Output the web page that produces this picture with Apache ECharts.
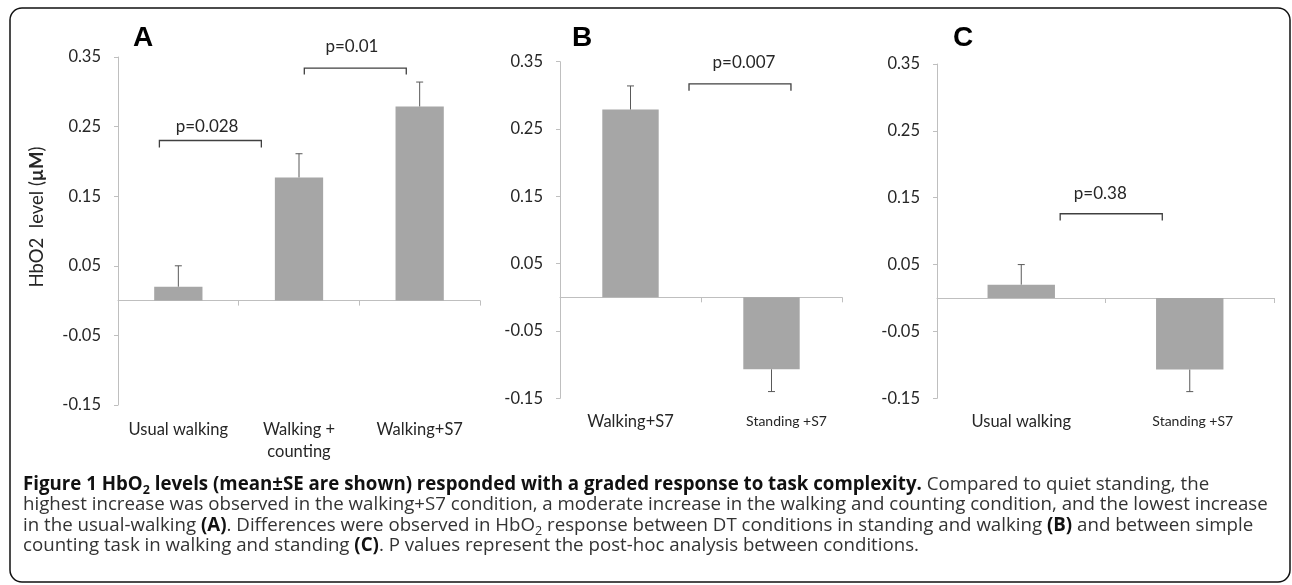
<!DOCTYPE html>
<html>
<head>
<meta charset="utf-8">
<script src="https://cdn.jsdelivr.net/npm/echarts@6/dist/echarts.min.js"></script>
<style>
html,body{margin:0;padding:0;background:#fff;}
#c{width:1292px;height:585px;}
</style>
</head>
<body>
<div id="c"></div>
<script>
// ---- data ----
const yTicks = [-0.15, -0.05, 0.05, 0.15, 0.25, 0.35];

const catsA = ['Usual walking', 'Walking +\ncounting', 'Walking+S7'];
const meanA = [0.02, 0.177, 0.279];
const seA = [0.03, 0.034, 0.035];

const catsB = ['Walking+S7', 'Standing +S7'];
const meanB = [0.279, -0.107];
const seB = [0.035, 0.033];

const catsC = ['Usual walking', 'Standing +S7'];
const meanC = [0.02, -0.107];
const seC = [0.03, 0.033];

// brackets: [fromCat, toCat, yTop, yEnd, labelCat, labelY]
const bracketsA = [[-0.157, 0.688, 0.230, 0.220, 0.238, 0.250], [1.044, 1.889, 0.334, 0.325, 1.439, 0.365]];
const bracketLabelsA = ['p=0.028', 'p=0.01'];
const bracketsB = [[0.415, 1.138, 0.317, 0.307, 0.805, 0.349]];
const bracketLabelsB = ['p=0.007'];
const bracketsC = [[0.231, 0.837, 0.126, 0.116, 0.469, 0.157]];
const bracketLabelsC = ['p=0.38'];

const panelLetters = ['A', 'B', 'C'];

// ---- styles ----
const AX = '#bfbfbf';
const TXT = '#262626';
const FONT = 'Lato';

const chart = echarts.init(document.getElementById('c'));

const grids = [
  {left: 118, top: 57, width: 362, height: 348},
  {left: 560, top: 61.7, width: 282, height: 336.6},
  {left: 937, top: 64, width: 337, height: 334.3}
];

function mkCats(cats, smallIdx, padLeft) {
  return cats.map((c, i) => {
    if (i === smallIdx) {
      return {value: c, textStyle: {fontSize: 14, padding: [0, 0, 0, padLeft]}};
    }
    return c;
  });
}

const panels = [
  {cats: catsA, labelCats: catsA, mean: meanA, se: seA, br: bracketsA, brl: bracketLabelsA, margin: 14},
  {cats: catsB, labelCats: mkCats(catsB, 1, 30), mean: meanB, se: seB, br: bracketsB, brl: bracketLabelsB, margin: 12},
  {cats: catsC, labelCats: mkCats(catsC, 1, 6), mean: meanC, se: seC, br: bracketsC, brl: bracketLabelsC, margin: 12}
];

const xAxes = [], yAxes = [], series = [];
panels.forEach((p, i) => {
  xAxes.push({
    gridIndex: i, type: 'category', data: p.cats,
    axisLine: {onZero: true, lineStyle: {color: AX, width: 1}},
    axisTick: {show: true, length: 5, lineStyle: {color: AX}},
    axisLabel: {show: false}
  });
  xAxes.push({
    gridIndex: i, type: 'category', data: p.labelCats, position: 'bottom',
    axisLine: {show: false, onZero: false},
    axisTick: {show: false},
    axisLabel: {margin: p.margin, fontFamily: FONT, fontSize: 16.5, color: TXT, lineHeight: 22, interval: 0}
  });
  yAxes.push({
    gridIndex: i, type: 'value', min: -0.15, max: 0.35,
    splitLine: {show: false},
    axisLine: {show: true, lineStyle: {color: AX}},
    axisTick: {show: true, length: 4, lineStyle: {color: AX}, customValues: yTicks},
    axisLabel: {customValues: yTicks, formatter: v => v.toFixed(2), fontFamily: FONT, fontSize: 16.5, color: TXT, margin: 17}
  });
  series.push({
    type: 'bar', xAxisIndex: 2 * i, yAxisIndex: i, data: p.mean,
    barWidth: '40%', itemStyle: {color: '#a6a6a6'}, silent: true
  });
  series.push({
    type: 'custom', xAxisIndex: 2 * i, yAxisIndex: i, z: 5, silent: true,
    data: p.mean.map((m, j) => [j, m, p.se[j]]),
    renderItem: (params, api) => {
      const x = api.value(0), m = api.value(1), s = api.value(2);
      const d = m >= 0 ? 1 : -1;
      const p0 = api.coord([x, m]);
      const p1 = api.coord([x, m + d * s]);
      const st = {stroke: '#595959', lineWidth: 1};
      return {type: 'group', children: [
        {type: 'line', shape: {x1: p0[0], y1: p0[1], x2: p1[0], y2: p1[1]}, style: st},
        {type: 'line', shape: {x1: p1[0] - 3.5, y1: p1[1], x2: p1[0] + 3.5, y2: p1[1]}, style: st}
      ]};
    }
  });
  series.push({
    type: 'custom', xAxisIndex: 2 * i, yAxisIndex: i, z: 5, silent: true,
    data: p.br,
    renderItem: (params, api) => {
      const band = api.size([1, 0])[0];
      const c0 = api.coord([0, api.value(2)]);
      const yTop = c0[1];
      const yEnd = api.coord([0, api.value(3)])[1];
      const x1 = c0[0] + api.value(0) * band;
      const x2 = c0[0] + api.value(1) * band;
      const lx = c0[0] + api.value(4) * band;
      const ly = api.coord([0, api.value(5)])[1];
      return {type: 'group', children: [
        {type: 'polyline', shape: {points: [[x1, yEnd], [x1, yTop], [x2, yTop], [x2, yEnd]]},
         style: {stroke: '#404040', lineWidth: 1.3, fill: null}},
        {type: 'text', x: lx, y: ly,
         style: {text: p.brl[params.dataIndex], fontFamily: FONT, fontSize: 17, fill: TXT, align: 'center', verticalAlign: 'middle'}}
      ]};
    }
  });
});

const capFont = 'Open Sans';
const CF = 18.7;
const rich = {
  b: {fontFamily: capFont, fontSize: CF, fontWeight: 'bold', fill: '#111', lineHeight: 24},
  n: {fontFamily: capFont, fontSize: CF, fill: '#333', lineHeight: 24},
  bs: {fontFamily: capFont, fontSize: 12.5, fontWeight: 'bold', fill: '#111', lineHeight: 13, verticalAlign: 'bottom'},
  ns: {fontFamily: capFont, fontSize: 12.5, fill: '#333', lineHeight: 13, verticalAlign: 'bottom'}
};
const capLines = [
  '{b|Figure 1 HbO}{bs|2}{b| levels (mean±SE are shown) responded with a graded response to task complexity.}{n| Compared to quiet standing, the}',
  '{n|highest increase was observed in the walking+S7 condition, a moderate increase in the walking and counting condition, and the lowest increase}',
  '{n|in the usual-walking }{b|(A)}{n|. Differences were observed in HbO}{ns|2}{n| response between DT conditions in standing and walking }{b|(B)}{n| and between simple}',
  '{n|counting task in walking and standing }{b|(C)}{n|. P values represent the post-hoc analysis between conditions.}'
];
const capY = [485, 505, 525.5, 546];

const graphics = [
  {type: 'rect', shape: {x: 10, y: 8, width: 1280, height: 574, r: 12},
   style: {fill: null, stroke: '#111', lineWidth: 1.5}, silent: true},
  {type: 'text', x: 37, y: 217, rotation: Math.PI / 2,
   style: {text: 'HbO2  level ({bb|µM})', fontFamily: FONT, fontSize: 18.5, fill: TXT, align: 'center', verticalAlign: 'middle',
           rich: {bb: {fontFamily: FONT, fontSize: 18.5, fontWeight: 'bold', fill: TXT}}}}
];
const letterX = [133, 572, 953];
panelLetters.forEach((L, i) => {
  graphics.push({type: 'text', x: letterX[i], y: 38,
    style: {text: L, fontFamily: 'Liberation Sans', fontWeight: 'bold', fontSize: 28, fill: '#000', align: 'left', verticalAlign: 'middle'}});
});
capLines.forEach((t, i) => {
  graphics.push({type: 'text', x: 23, y: capY[i],
    style: {text: t, rich: rich, align: 'left', verticalAlign: 'middle', fontFamily: capFont, fontSize: CF}});
});

chart.setOption({
  animation: false,
  grid: grids,
  xAxis: xAxes,
  yAxis: yAxes,
  series: series,
  graphic: graphics
});
</script>
</body>
</html>
